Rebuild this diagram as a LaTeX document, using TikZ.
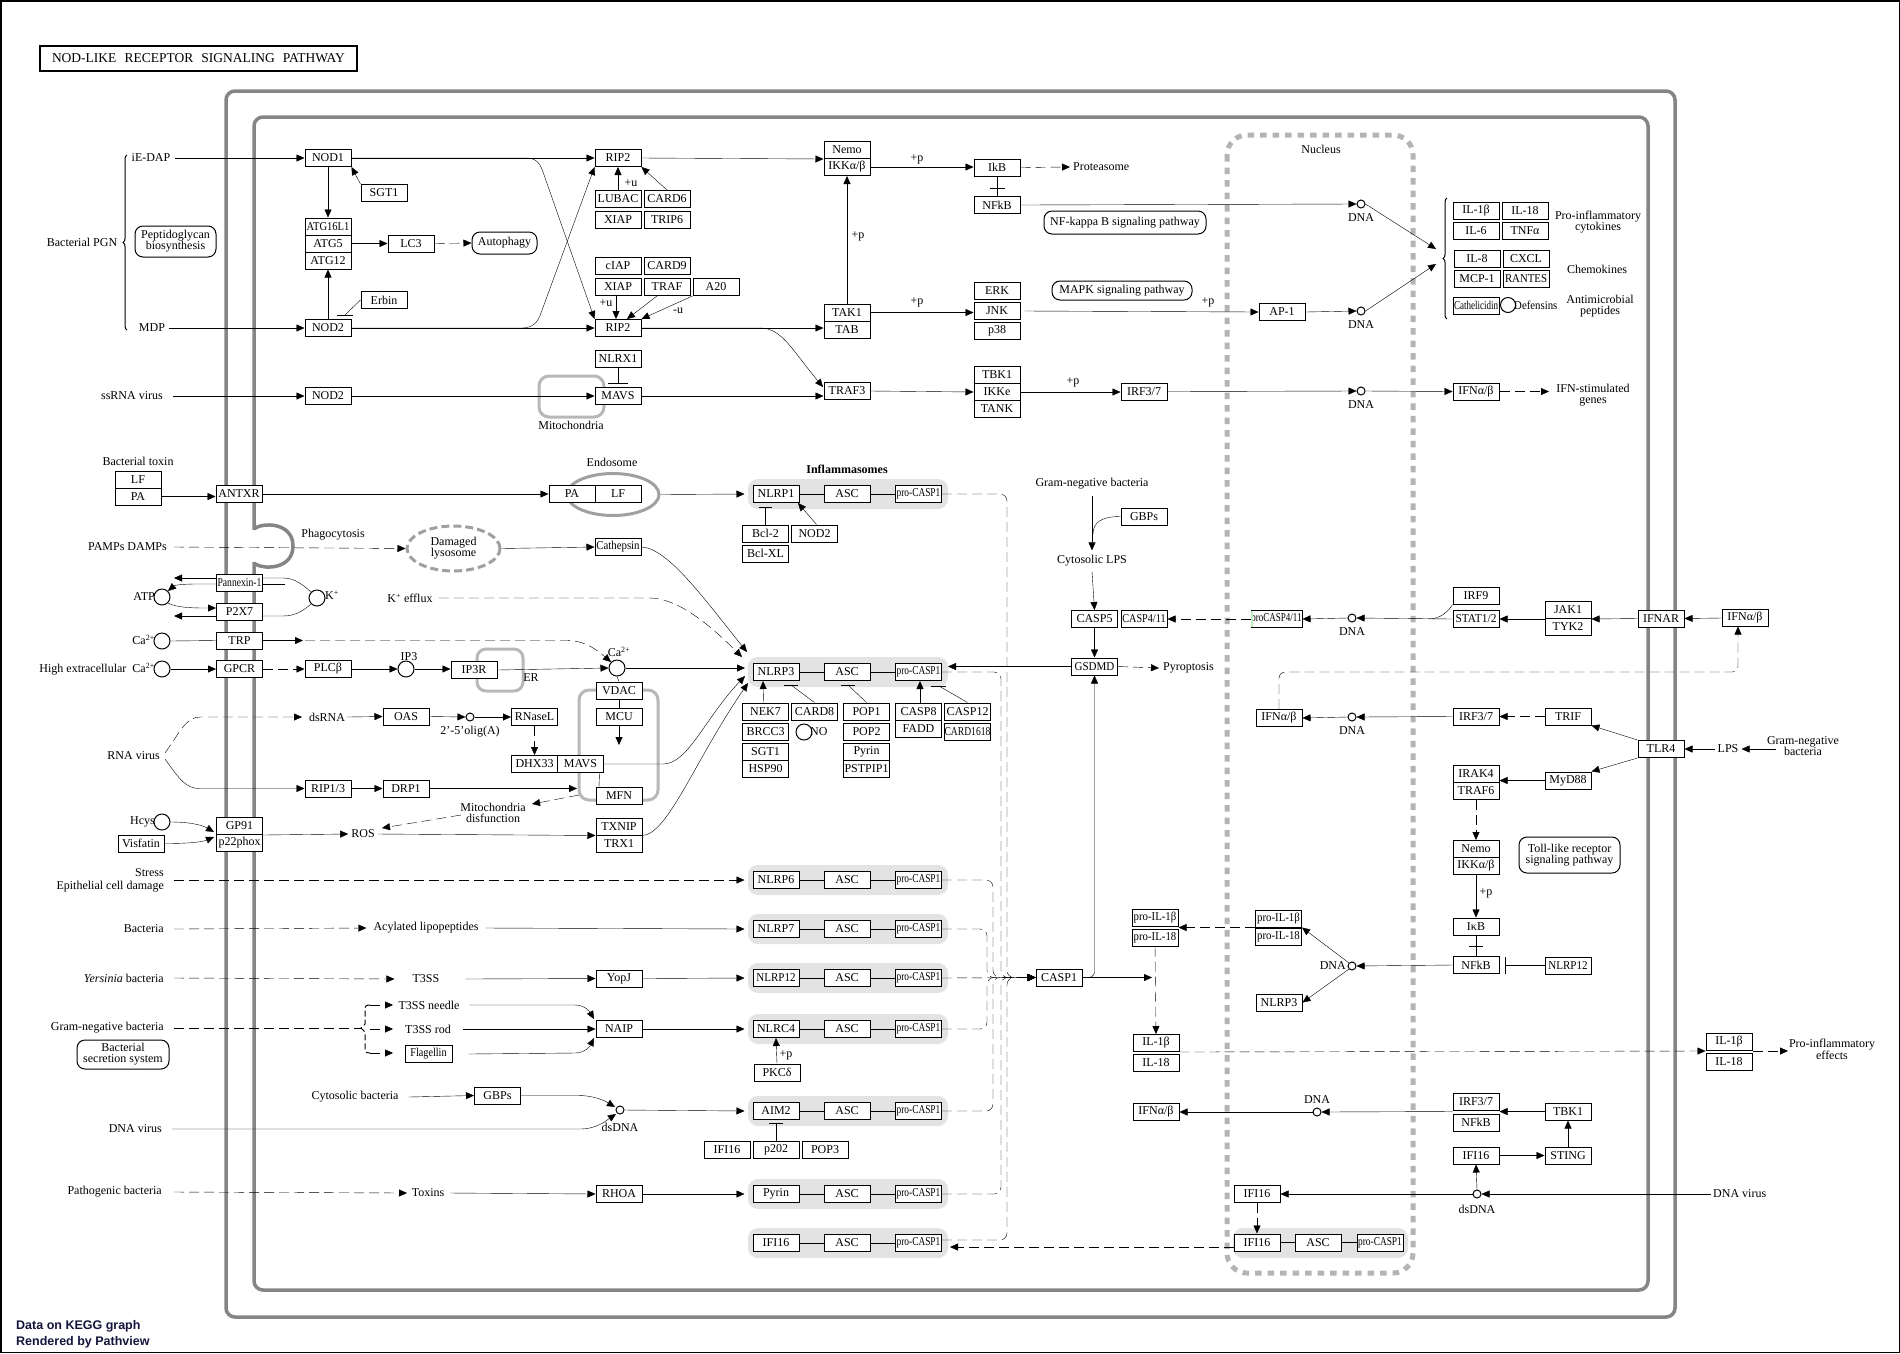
\documentclass[tikz,border=0pt]{standalone}
\usepackage{fontspec}
\setmainfont{Liberation Serif}
\newfontfamily\footfont{Liberation Sans}
\usepackage{graphicx}
\usetikzlibrary{arrows.meta,shapes.geometric,decorations.pathreplacing,calc}
\definecolor{memgray}{HTML}{858585}
\definecolor{nucgray}{HTML}{B4B4B4}
\definecolor{grpgray}{HTML}{E3E3E3}
\definecolor{orggray}{HTML}{B8B8B8}
\definecolor{dkgray}{HTML}{A0A0A0}
\definecolor{footc}{HTML}{14143C}
\definecolor{pvgreen}{HTML}{BFEFBF}
\pgfdeclarelayer{bg}
\pgfsetlayers{bg,main}
\newcommand\gf{\fontsize{12}{11}\selectfont}
\newcommand\cz[2]{\scalebox{#1}[1]{#2}}
% one inflammasome complex: sensor -- ASC -- pro-CASP1
\newcommand\infl[3]{%
  \node[g] (h#1) at (776,#2) {#3};
  \node[g] (asc#1) at (847,#2) {ASC};
  \node[g] (pc#1) at (918.5,#2) {\cz{0.78}{pro-CASP1}};
  \draw (h#1.east) -- (asc#1.west) (asc#1.east) -- (pc#1.west);}

\begin{document}
\begin{tikzpicture}[x=1pt,y=-1pt,line width=1.25pt,
  g/.style={draw,fill=white,minimum width=46pt,minimum height=17pt,inner sep=0pt,font=\gf,line width=1pt},
  lb/.style={inner sep=0pt,font=\gf,align=center},
  pw/.style={draw,rounded corners=8pt,inner sep=0pt,font=\gf,align=center,line width=1pt},
  cpd/.style={circle,draw,fill=white,minimum size=16pt,inner sep=0pt,line width=1pt},
  sc/.style={circle,draw,fill=white,minimum size=8pt,inner sep=0pt,line width=1pt},
  ar/.style={-{Triangle[length=8pt,width=7pt]}},
  dsh/.style={dash pattern=on 10pt off 5pt},
  mem/.style={draw=memgray,line width=3.5pt,rounded corners=9pt},
  org/.style={draw=orggray,line width=3pt,rounded corners=10pt}
]
\useasboundingbox (0,0) rectangle (1900,1353);

\begin{pgfonlayer}{bg}
\fill[white] (0,0) rectangle (1900,1353);
\draw[line width=1.5pt] (0.75,0.75) rectangle (1899.25,1352.25);
% plasma membrane (double line)
\draw[mem] (226,91) rectangle (1675,1317);
\draw[mem] (254,117) rectangle (1648,1290);
% phagocytic cup
\fill[white] (250,530) rectangle (258,562);
\draw[draw=memgray,line width=3.5pt] (254,529) .. controls (262,522) and (293,522) .. (293,546) .. controls (293,570) and (262,570) .. (254,563);
% nucleus
\draw[nucgray,line width=5pt,dash pattern=on 6.5pt off 6pt,rounded corners=20pt] (1227,135) rectangle (1413,1273);
% inflammasome complexes
\foreach \yy in {494,672,880,929,978,1029,1111,1194,1243}
  \fill[grpgray,rounded corners=10pt] (748,\yy-15) rectangle (948,\yy+15);
\fill[grpgray,rounded corners=10pt] (1233,1228) rectangle (1408,1258);
% organelles
\draw[org] (539,376) rectangle (604,417);
\draw[org] (579,690) rectangle (658,800);
\draw[org,rounded corners=9pt] (477,649) rectangle (523,691);
\node[ellipse,draw=dkgray,line width=3pt,minimum width=92pt,minimum height=42pt,inner sep=0pt] (endo) at (613,494.5) {};
\node[ellipse,draw=dkgray,line width=3pt,dash pattern=on 8pt off 4pt,minimum width=93pt,minimum height=45pt,inner sep=0pt,font=\gf,align=center] (dlys) at (453.5,548.5) {Damaged\\lysosome};
\end{pgfonlayer}

% ---------- title and footer
\node[draw,line width=2.2pt,minimum width=317pt,minimum height=25pt,inner sep=0pt,font=\fontsize{13.5}{12}\selectfont] (title) at (198.5,58.5) {\makebox[293pt][s]{NOD-LIKE RECEPTOR SIGNALING PATHWAY}};
\node[anchor=west,inner sep=0pt,align=left,text=footc,font=\footfont\bfseries\fontsize{12.5}{15.5}\selectfont] (foot) at (16,1334) {Data on KEGG graph\\Rendered by Pathview};

% ---------- compartment labels
\node[lb] (nucl) at (1321,149) {Nucleus};
\node[lb] (mitol) at (571,425) {Mitochondria};
\node[lb] (erl) at (531,678) {ER};
\node[lb] (endol) at (612,462) {Endosome};
\node[lb,font=\gf\bfseries] (inflm) at (847,469) {Inflammasomes};

% ---------- NOD1 / NOD2 signalling
\node[lb] (bpgn) at (82,242) {Bacterial PGN};
\draw[decorate,decoration={brace,amplitude=4pt},line width=1pt] (127,330) -- (127,155);
\node[lb] (iedap) at (151,158) {iE-DAP};
\node[lb] (mdp) at (152,328) {MDP};
\node[pw,minimum width=81pt,minimum height=31pt] (pgbio) at (175.5,241.5) {Peptidoglycan\\biosynthesis};
\node[g] (nod1) at (328,158) {NOD1};
\node[g] (nod2a) at (328,328) {NOD2};
\node[g] (sgt1) at (384,193) {SGT1};
\node[g] (erbin) at (384,300) {Erbin};
\node[g] (atg16) at (328,226.5) {\cz{0.88}{ATG16L1}};
\node[g] (atg5) at (328,243.5) {ATG5};
\node[g] (atg12) at (328,260.5) {ATG12};
\node[g] (lc3) at (411,243.5) {LC3};
\node[pw,minimum width=65pt,minimum height=22pt] (autoph) at (504.5,243) {Autophagy};
\node[lb,anchor=east] (ssrna) at (163,396) {ssRNA virus};
\node[g] (nod2b) at (328,396) {NOD2};
\node[g] (rip2a) at (618,158) {RIP2};
\node[g] (lubac) at (618,199) {LUBAC};
\node[g] (card6) at (667,199) {CARD6};
\node[g] (xiapa) at (618,220) {XIAP};
\node[g] (trip6) at (667,220) {TRIP6};
\node[g] (ciap) at (618,266) {cIAP};
\node[g] (card9) at (667,266) {CARD9};
\node[g] (xiapb) at (618,287) {XIAP};
\node[g] (traf) at (667,287) {TRAF};
\node[g] (a20) at (716,287) {A20};
\node[g] (rip2b) at (618,328) {RIP2};
\node[g] (nlrx1) at (618,359) {NLRX1};
\node[g] (mavsa) at (618,396) {MAVS};
\node[g] (nemoa) at (847,150) {Nemo};
\node[g] (ikka) at (847,167) {IKKα/β};
\node[g] (tak1) at (847,312.5) {TAK1};
\node[g] (tab) at (847,329.5) {TAB};
\node[g] (traf3) at (847,391) {TRAF3};
\node[g] (ikba) at (997,167.5) {IkB};
\node[g] (nfkba) at (997,205) {NFkB};
\node[lb,anchor=west] (protea) at (1073,167) {Proteasome};
\node[pw,minimum width=162pt,minimum height=23pt] (nfkbpw) at (1125,222.5) {NF-kappa B signaling pathway};
\node[g] (erk) at (997,291) {ERK};
\node[g] (jnk) at (997,311) {JNK};
\node[g] (p38) at (997,331) {p38};
\node[pw,minimum width=140pt,minimum height=19pt] (mapkpw) at (1122,290.5) {MAPK signaling pathway};
\node[g] (tbk1a) at (997,375) {TBK1};
\node[g] (ikke) at (997,392) {IKKe};
\node[g] (tank) at (997,409) {TANK};
\node[g] (irfa) at (1144,391.5) {IRF3/7};
\node[g] (ap1) at (1282,312) {AP-1};
\node[sc] (dna1) at (1361,204) {};
\node[lb] (dna1l) at (1361,218) {DNA};
\node[sc] (dna2) at (1361,311) {};
\node[lb] (dna2l) at (1361,325) {DNA};
\node[sc] (dna3) at (1361,391) {};
\node[lb] (dna3l) at (1361,405) {DNA};
\node[lb] (pu1) at (631,183) {+u};
\node[lb] (pu2) at (606,303) {+u};
\node[lb] (mu1) at (678,311) {-u};
\node[lb] (pp1) at (858,236) {+p};
\node[lb] (pp2) at (917,159) {+p};
\node[lb] (pp3) at (917,302) {+p};
\node[lb] (pp4) at (1208,302) {+p};
\node[lb] (pp5) at (1073,382) {+p};

% ---------- secreted products
\node[g] (il1ba) at (1476,210.5) {IL-1β};
\node[g] (il18a) at (1525,210.5) {IL-18};
\node[g] (il6) at (1476,231) {IL-6};
\node[g] (tnfa) at (1525,231) {TNFα};
\node[g] (il8) at (1477,258.5) {IL-8};
\node[g] (cxcl) at (1526,258.5) {CXCL};
\node[g] (mcp1) at (1477,278.5) {MCP-1};
\node[g] (rantes) at (1526,278.5) {\cz{0.9}{RANTES}};
\node[g] (cath) at (1476,305.5) {\cz{0.75}{Cathelicidin}};
\node[cpd,minimum size=15pt] (defc) at (1508,305) {};
\node[lb,anchor=west] (defl) at (1514,305) {\cz{0.9}{Defensins}};
\node[lb] (cytk) at (1598,222.5) {Pro-inflammatory\\cytokines};
\node[lb] (chemk) at (1597,269) {Chemokines};
\node[lb] (amp) at (1600,306.5) {Antimicrobial\\peptides};
\draw[decorate,decoration={brace,amplitude=4pt},line width=1pt] (1447,319) -- (1447,198);
\node[g] (ifnaba) at (1476,391.5) {IFNα/β};
\node[lb] (isg) at (1593,395) {IFN-stimulated\\genes};

% ---------- left middle: toxins, ions, RNA virus, ROS
\node[lb] (btox) at (138,461) {Bacterial toxin};
\node[g] (lfa) at (138,479.5) {LF};
\node[g] (paa) at (138,496.5) {PA};
\node[g] (antxr) at (239,494) {ANTXR};
\node[g] (pab) at (572,494) {PA};
\node[g] (lfb) at (618,494) {LF};
\node[lb,anchor=east] (pamps) at (167,547) {PAMPs DAMPs};
\node[lb] (phago) at (333,535) {Phagocytosis};
\node[g] (cathep) at (618,547) {\cz{0.9}{Cathepsin}};
\node[g] (panx) at (239.5,583) {\cz{0.8}{Pannexin-1}};
\node[g] (p2x7) at (239.5,611.5) {P2X7};
\node[cpd] (atp) at (162,597) {};
\node[lb,anchor=east] (atpl) at (155,597) {ATP};
\node[cpd] (kp) at (317,598) {};
\node[lb,anchor=west] (kpl) at (325,595) {K\textsuperscript{+}};
\node[lb] (kef) at (410,598) {K\textsuperscript{+} efflux};
\node[cpd] (caa) at (162,641) {};
\node[lb,anchor=east] (caal) at (155,640) {Ca\textsuperscript{2+}};
\node[g] (trp) at (239.5,640.5) {TRP};
\node[cpd] (cab) at (162,669) {};
\node[lb,anchor=east] (cabl) at (155,669) {High extracellular\ \ Ca\textsuperscript{2+}};
\node[g] (gpcr) at (239.5,669) {GPCR};
\node[g] (plcb) at (328,669) {PLCβ};
\node[cpd] (ip3) at (406,669) {};
\node[lb] (ip3l) at (409,657) {IP3};
\node[g] (ip3r) at (474,670) {IP3R};
\node[cpd] (cac) at (617,668) {};
\node[lb] (cacl) at (619,652) {Ca\textsuperscript{2+}};
\node[g] (vdac) at (619,690.5) {VDAC};
\node[g] (mcu) at (619,716.5) {MCU};
\node[g] (mfn) at (619,796) {MFN};
\node[g] (dhx33) at (534.5,764) {DHX33};
\node[g] (mavsb) at (580.5,764) {MAVS};
\node[g] (rnasel) at (534.5,717) {RNaseL};
\node[sc] (olig) at (470,717) {};
\node[lb] (oligl) at (470,732) {2’-5’olig(A)};
\node[g] (oas) at (406,716.5) {OAS};
\node[lb] (dsrna) at (327,717) {dsRNA};
\node[lb,anchor=east] (rnav) at (160,756) {RNA virus};
\node[g] (rip13) at (328,788.5) {RIP1/3};
\node[g] (drp1) at (406,788.5) {DRP1};
\node[lb] (mdis) at (493,812.5) {Mitochondria\\disfunction};
\node[cpd] (hcys) at (162,822) {};
\node[lb,anchor=east] (hcysl) at (155,822) {Hcys};
\node[g] (visf) at (141,843.5) {Visfatin};
\node[g] (gp91) at (239.5,826) {GP91};
\node[g] (p22) at (239.5,843) {p22phox};
\node[lb] (ros) at (363,834) {ROS};
\node[g] (txnip) at (619,826.5) {TXNIP};
\node[g] (trx1) at (619,843.5) {TRX1};
\node[lb,anchor=east] (stress) at (164,873) {Stress};
\node[lb,anchor=east] (epi) at (164,887) {Epithelial cell damage};

% ---------- inflammasomes
\infl{A}{494}{NLRP1}
\infl{B}{672}{NLRP3}
\infl{C}{880}{NLRP6}
\infl{D}{929}{NLRP7}
\infl{E}{978}{\cz{0.92}{NLRP12}}
\infl{F}{1029}{NLRC4}
\infl{G}{1111}{AIM2}
\infl{H}{1194}{Pyrin}
\infl{I}{1243}{IFI16}
\node[g] (bcl2) at (765.5,533.5) {Bcl-2};
\node[g] (bclxl) at (765.5,553.5) {Bcl-XL};
\node[g] (nod2c) at (814.5,533.5) {NOD2};
\node[g] (nek7) at (765.5,711.5) {NEK7};
\node[g] (brcc3) at (765.5,731.5) {BRCC3};
\node[g] (sgt1b) at (765.5,751.5) {SGT1};
\node[g] (hsp90) at (765.5,768.5) {HSP90};
\node[g] (card8) at (814.5,711.5) {CARD8};
\node[cpd] (no) at (804,732) {};
\node[lb,anchor=west] (nol) at (810,732) {NO};
\node[g] (pop1) at (866.5,711.5) {POP1};
\node[g] (pop2) at (866.5,731.5) {POP2};
\node[g] (pyrb) at (866.5,751.5) {Pyrin};
\node[g] (pstpip) at (866.5,768.5) {PSTPIP1};
\node[g] (casp8) at (918.5,711.5) {CASP8};
\node[g] (fadd) at (918.5,728.5) {FADD};
\node[g] (casp12) at (967.5,711.5) {CASP12};
\node[g] (card1618) at (967.5,732) {\cz{0.8}{CARD1618}};
\node[g] (pkcd) at (777,1072.5) {PKCδ};
\node[lb] (pp6) at (786,1055) {+p};
\node[g] (ifi16a) at (727,1149.5) {IFI16};
\node[g] (p202) at (776,1149.5) {p202};
\node[g] (pop3) at (825,1149.5) {POP3};

% ---------- bottom left: bacteria and DNA virus
\node[lb,anchor=east] (bact) at (164,929) {Bacteria};
\node[lb] (acyl) at (426,928) {Acylated lipopeptides};
\node[lb,anchor=east] (yers) at (164,978) {\textit{Yersinia} bacteria};
\node[lb] (t3ss) at (426,979) {T3SS};
\node[g] (yopj) at (619,978.5) {YopJ};
\node[lb,anchor=east] (gnb) at (164,1028) {Gram-negative bacteria};
\node[pw,minimum width=92pt,minimum height=29pt] (bss) at (123,1054.5) {Bacterial\\secretion system};
\node[lb] (needle) at (429,1005) {T3SS needle};
\node[lb] (rod) at (428,1029) {T3SS rod};
\node[g,minimum width=47pt] (flag) at (428.5,1054) {\cz{0.85}{Flagellin}};
\node[g] (naip) at (619,1029) {NAIP};
\node[lb] (cytb) at (355,1097) {Cytosolic bacteria};
\node[g] (gbpsa) at (497.5,1095.5) {GBPs};
\node[sc] (dsdnaa) at (620,1110) {};
\node[lb] (dsdnaal) at (620,1127) {dsDNA};
\node[lb,anchor=east] (dnava) at (162,1129) {DNA virus};
\node[lb,anchor=east] (pathb) at (162,1192) {Pathogenic bacteria};
\node[lb] (toxins) at (428,1193) {Toxins};
\node[g] (rhoa) at (619,1194) {RHOA};

% ---------- CASP1, GSDMD, non-canonical pathway
\node[lb] (gnb2) at (1092,484) {Gram-negative bacteria};
\node[g] (gbpsb) at (1144,516.5) {GBPs};
\node[lb] (clps) at (1092,561) {Cytosolic LPS};
\node[g] (casp5) at (1094.5,619) {CASP5};
\node[g] (casp411) at (1144,619) {\cz{0.85}{CASP4/11}};
\node[g] (gsdmd) at (1094.5,666.5) {\cz{0.92}{GSDMD}};
\node[lb,anchor=west] (pyro) at (1163,668) {Pyroptosis};
\node[g] (casp1) at (1059,977.5) {CASP1};
\node[g,minimum width=51pt] (pc411) at (1276.5,619) {\cz{0.75}{proCASP4/11}};
\fill[pvgreen] ([xshift=0.8pt,yshift=-0.8pt]pc411.north west) rectangle ([xshift=2.8pt,yshift=0.8pt]pc411.south west);
\node[sc] (dna4) at (1352,618) {};
\node[lb] (dna4l) at (1352,632) {DNA};
\node[g] (irf9) at (1476,595.5) {IRF9};
\node[g] (stat12) at (1476,619) {\cz{0.95}{STAT1/2}};
\node[g] (jak1) at (1568,610) {JAK1};
\node[g] (tyk2) at (1568,627) {TYK2};
\node[g] (ifnar) at (1661,618.5) {IFNAR};
\node[g] (ifnabb) at (1745,618) {IFNα/β};
\node[g] (ifnabc) at (1279,718) {IFNα/β};
\node[sc] (dna5) at (1352,717) {};
\node[lb] (dna5l) at (1352,731) {DNA};
\node[g] (irfb) at (1476,716.5) {IRF3/7};
\node[g] (trif) at (1568,716.5) {TRIF};
\node[g] (tlr4) at (1661,749) {TLR4};
\node[lb] (lps) at (1728,749) {LPS};
\node[lb] (gnb3) at (1803,746.5) {Gram-negative\\bacteria};
\node[g] (irak4) at (1476,773.5) {IRAK4};
\node[g] (traf6) at (1476,790.5) {TRAF6};
\node[g] (myd88) at (1568,780.5) {MyD88};
\node[pw,minimum width=101pt,minimum height=36pt] (tlrpw) at (1569.5,855) {Toll-like receptor\\signaling pathway};
\node[g] (nemob) at (1476,849) {Nemo};
\node[g] (ikkb) at (1476,866) {IKKα/β};
\node[lb] (pp7) at (1486,893) {+p};
\node[g] (ikbb) at (1476,926.5) {IκB};
\node[g] (nfkbb) at (1476,965) {NFkB};
\node[g] (nlrp12b) at (1568,965.5) {\cz{0.92}{NLRP12}};
\node[sc] (dna6) at (1352,966) {};
\node[lb,anchor=east] (dna6l) at (1346,966) {DNA};
\node[g] (pil1bn) at (1278.5,918.5) {\cz{0.9}{pro-IL-1β}};
\node[g] (pil18n) at (1278.5,936.5) {\cz{0.9}{pro-IL-18}};
\node[g] (nlrp3n) at (1279,1002.5) {NLRP3};
\node[g] (pil1bc) at (1155,917.5) {\cz{0.9}{pro-IL-1β}};
\node[g] (pil18c) at (1155,937.5) {\cz{0.9}{pro-IL-18}};
\node[g] (il1bc) at (1156,1043) {IL-1β};
\node[g] (il18c) at (1156,1062.5) {IL-18};
\node[g] (il1bo) at (1729,1042) {IL-1β};
\node[g] (il18o) at (1729,1062) {IL-18};
\node[lb] (pinf) at (1832,1049.5) {Pro-inflammatory\\effects};
\node[g] (ifnabd) at (1156,1112) {IFNα/β};
\node[sc] (dna7) at (1317,1112) {};
\node[lb] (dna7l) at (1317,1100) {DNA};
\node[g] (irfc) at (1476,1101.5) {IRF3/7};
\node[g] (nfkbc) at (1476,1122.5) {NFkB};
\node[g] (tbk1b) at (1568,1111.5) {TBK1};
\node[g] (ifi16b) at (1476,1155.5) {IFI16};
\node[g] (sting) at (1568,1155.5) {STING};
\node[sc] (dsdnab) at (1477,1194) {};
\node[lb] (dsdnabl) at (1477,1209) {dsDNA};
\node[lb,anchor=west] (dnavb) at (1713,1194) {DNA virus};
\node[g] (ifi16c) at (1257,1194) {IFI16};
\node[g] (ifi16d) at (1257,1242.5) {IFI16};
\node[g] (ascn) at (1318,1242.5) {ASC};
\node[g] (pcn) at (1380,1242.5) {\cz{0.78}{pro-CASP1}};
\draw (ifi16d.east) -- (ascn.west) (ascn.east) -- (pcn.west);

% ================= connectors =================
% NOD1 / NOD2 / RIP2
\draw[ar] ([xshift=4pt]iedap.east) -- (nod1.west);
\draw[ar] ([xshift=4pt]mdp.east) -- (nod2a.west);
\draw[ar] ([xshift=10pt]ssrna.east) -- (nod2b.west);
\draw[ar] (sgt1.north west) -- (nod1.south east);
\draw[ar] (nod1.south) -- (atg16.north);
\draw[ar] (nod2a.north) -- (atg12.south);
\draw (erbin.west) -- (345,315);
\draw (337,315) -- (353,315);
\draw[ar] (atg5.east) -- (lc3.west);
\draw[dsh,ar] (lc3.east) -- (autoph.west);
\draw[ar] (nod1.east) -- (rip2a.west);
\draw[ar] (nod1.east) -- (526,158) .. controls (536,158) and (540,163) .. (543,172) -- (rip2b.north west);
\draw[ar] (nod2a.east) -- (522,328) .. controls (533,328) and (538,322) .. (541,313) -- (rip2a.south west);
\draw[ar] (nod2a.east) -- (rip2b.west);
\draw[ar] (nod2b.east) -- (mavsa.west);
\draw[ar] (lubac.north) -- (rip2a.south);
\draw[ar] (card6.north) -- (rip2a.south east);
\draw[ar] ([xshift=-2pt]xiapb.south) -- ([xshift=-2pt]rip2b.north);
\draw[ar] ([xshift=-10pt]traf.south) -- ([xshift=9pt]rip2b.north);
\draw[ar] (a20.south west) -- (rip2b.north east);
\draw (nlrx1.south) -- (618,383);
\draw (608,383) -- (628,383);
\draw[ar] (rip2a.east) -- (nemoa.south west);
\draw[ar] (tak1.north) -- (ikka.south);
\draw[ar] (rip2b.east) -- (rip2b.east -| tab.west);
\draw[ar] (rip2b.east) -- (760,328) .. controls (782,328) and (792,350) .. (823,387);
\draw[ar] (mavsa.east) -- (mavsa.east -| traf3.west);
\draw[ar] (ikka.east) -- (ikka.east -| ikba.west);
\draw[dsh,ar] (ikba.east) -- ([xshift=-3pt]protea.west);
\draw (ikba.south) -- (nfkba.north);
\draw (990,188) -- (1005,188);
\draw[ar] (nfkba.east) -- (dna1.west);
\draw[ar] (tak1.east) -- (tak1.east -| jnk.west);
\draw[ar] ([xshift=4pt]jnk.east) -- (ap1.west);
\draw[ar] (ap1.east) -- (dna2.west);
\draw[ar] (traf3.east) -- (ikke.west);
\draw[ar] (ikke.east) -- (ikke.east -| irfa.west);
\draw[ar] (irfa.east) -- (dna3.west);
\draw[ar] (dna1.east) -- (1436,249);
\draw[ar] (dna2.east) -- (1436,264);
\draw[ar] (dna3.east) -- (ifnaba.west);
\draw[dsh,ar] (ifnaba.east) -- (1549,391.5);

% toxins, phagocytosis, ion channels
\draw[ar] (paa.east) -- (paa.east -| antxr.west);
\draw[ar] (antxr.east) -- (pab.west);
\draw[ar] (endo.east) -- ([xshift=-8pt]hA.west);
\draw (bcl2.north) -- (765.5,507);
\draw (759,507) -- (772,507);
\draw[ar] ([xshift=2pt]nod2c.north) -- (798,503);
\draw[dsh,ar] ([xshift=7pt]pamps.east) -- (dlys.west);
\draw[ar] (dlys.east) -- (cathep.west);
\draw[ar] (cathep.east) .. controls (668,548) and (705,600) .. (747,652);
\draw[ar] (217,578) -- (174,578);
\draw[ar] (217,584) -- (196,584) .. controls (184,584) and (175,585) .. (atp.north east);
\draw[ar] (atp.south east) .. controls (177,608) and (195,608) .. (216,608);
\draw[ar] (217,616) -- (174,616);
\draw (262,578) -- (283,578) .. controls (295,578) and (303,585) .. (kp.north west);
\draw (262,584) -- (285,584);
\draw (262,616) -- (283,616) .. controls (295,616) and (303,611) .. (kp.south west);
\draw[dsh,ar] ([xshift=6pt]kef.east) -- (650,598) .. controls (675,598) and (705,620) .. (742,657);
\draw (caa.east) -- (trp.west);
\draw[ar] (trp.east) -- (303,640.5);
\draw[dsh,ar] (305,640.5) -- (567,640.5) .. controls (585,640.5) and (597,650) .. (cac.north west);
\draw[ar] (cab.east) -- (gpcr.west);
\draw[dsh,ar] (gpcr.east) -- (plcb.west);
\draw[ar] (plcb.east) -- (ip3.west);
\draw[ar] (ip3.east) -- (ip3.east -| ip3r.west);
\draw[ar] (ip3r.east) -- (cac.west);
\draw[ar] (cac.east) -- (745,668);
\draw (cac.south) -- (vdac.north);
\draw (vdac.south) -- (mcu.north);
\draw[ar] (mcu.south) -- (619,745);
% RNA virus
\draw[ar] ([xshift=2pt]dsrna.east) -- (oas.west);
\draw[ar] (oas.east) -- (olig.west);
\draw[ar] (olig.east) -- (rnasel.west);
\draw[dsh,ar] (rnasel.south) -- (dhx33.north);
\draw[dsh,ar] ([xshift=5pt,yshift=3pt]rnav.east) .. controls (180,732) and (186,717) .. (200,717) -- (302,717);
\draw[ar] ([xshift=5pt,yshift=-3pt]rnav.east) .. controls (180,780) and (186,788.5) .. (200,788.5) -- (rip13.west);
\draw[ar] (rip13.east) -- (drp1.west);
\draw[ar] (drp1.east) -- (577,788.5);
\draw[ar] (mavsb.east) -- (663,764) .. controls (688,764) and (705,718) .. (745,676);
\draw ([xshift=19pt]mavsb.south) -- ([xshift=-20pt]mfn.north);
\draw[dsh,ar] (579,795) -- (532,804);
\draw[dsh,ar] (461,815) -- (382,828);
% ROS
\draw[ar] (hcys.east) .. controls (190,822) and (202,825) .. (214,832);
\draw[ar] (visf.east) .. controls (190,843.5) and (202,842) .. (214,837);
\draw[ar] (gp91.south east) -- ([xshift=-3pt]ros.west);
\draw[ar] ([xshift=3pt]ros.east) -- (txnip.south west);
\draw[ar] (txnip.south east) .. controls (668,834) and (695,760) .. (748,683);
% NLRP3 modulators
\draw[ar] ([xshift=-2pt]nek7.north) -- ([xshift=-13pt]hB.south);
\draw (card8.north) -- (791,685);
\draw (784,685) -- (798,685);
\draw (pop1.north) -- (848,685);
\draw (841,685) -- (855,685);
\draw[ar] ([xshift=1.5pt]casp8.north) -- ([xshift=1.5pt]pcB.south);
\draw (casp12.north) -- (939,686);
\draw (931,686) -- (946,686);
% other sensors
\draw[dsh,ar] ([xshift=10pt]stress.east |- hC.west) -- ([xshift=-8pt]hC.west);
\draw[dsh,ar] ([xshift=10pt]bact.east) -- ([xshift=-7pt]acyl.west);
\draw[ar] ([xshift=7pt]acyl.east) -- ([xshift=-8pt]hD.west);
\draw[dsh,ar] ([xshift=10pt]yers.east) -- ([xshift=-18pt]t3ss.west);
\draw[ar] ([xshift=26pt]t3ss.east) -- (yopj.west);
\draw[ar] (yopj.east) -- ([xshift=-8pt]hE.west);
\draw[dsh] ([xshift=10pt]gnb.east) -- (361,1028);
\draw[dash pattern=on 6pt off 3pt,line width=1pt] (370,1005) .. controls (366,1005) and (365,1006) .. (365,1010) -- (365,1024) -- (361,1028) -- (365,1032) -- (365,1048) .. controls (365,1052) and (366,1053) .. (370,1053);
\draw[dsh,ar] (370,1005) -- (393,1005);
\draw[dsh,ar] (370,1029) -- (393,1029);
\draw[dsh,ar] (370,1053) -- (393,1053);
\draw[ar] ([xshift=10pt]needle.east) -- (575,1005) .. controls (585,1005) and (590,1012) .. (594,1019);
\draw[ar] ([xshift=12pt]rod.east) -- (naip.west);
\draw[ar] ([xshift=16pt]flag.east) -- (575,1053) .. controls (585,1053) and (590,1046) .. (594,1038);
\draw[ar] (naip.east) -- ([xshift=-8pt]hF.west);
\draw[ar] (pkcd.north) -- (hF.south);
\draw[ar] ([xshift=10pt]cytb.east) -- (gbpsa.west);
\draw[ar] (gbpsa.east) -- (578,1095.5) .. controls (595,1095.5) and (605,1101) .. (615,1107);
\draw[ar] ([xshift=10pt]dnava.east) -- (580,1129) .. controls (597,1129) and (607,1120) .. (616,1114);
\draw[ar] (dsdnaa.east) -- ([xshift=-8pt]hG.west);
\draw (p202.north) -- (776,1123);
\draw (769,1123) -- (783,1123);
\draw[dsh,ar] ([xshift=12pt]pathb.east) -- (407,1193);
\draw[ar] ([xshift=6pt]toxins.east) -- (rhoa.west);
\draw[ar] (rhoa.east) -- ([xshift=-8pt]hH.west);
% pro-CASP1 -> CASP1
\begin{scope}[dsh,ar,rounded corners=7pt]
\draw (pcA.east) -- (1007,494) -- (1007,977.5) -- (casp1.west);
\draw (pcB.east) -- (1001,672) -- (1001,977.5) -- (casp1.west);
\draw (pcC.east) -- (993,880) -- (993,977.5) -- (casp1.west);
\draw (pcD.east) -- (987,929) -- (987,977.5) -- (casp1.west);
\draw (pcE.east) -- (casp1.west);
\draw (pcF.east) -- (987,1029) -- (987,977.5) -- (casp1.west);
\draw (pcG.east) -- (993,1111) -- (993,977.5) -- (casp1.west);
\draw (pcH.east) -- (1001,1194) -- (1001,977.5) -- (casp1.west);
\draw ([yshift=3pt]pcI.east) -- (1007,1240) -- (1007,977.5) -- (casp1.west);
\end{scope}
\draw[ar,rounded corners=6pt] (casp1.east) -- (1094.5,977.5) -- (gsdmd.south);
\draw[ar] (casp1.east) -- (1152,977.5);
\draw[ar] (gsdmd.west) -- (948,666.5);
% non-canonical inflammasome
\draw[ar] ([yshift=-6pt]gnb2.south) -- ([yshift=5pt]clps.north);
\draw (gbpsb.west) .. controls (1102,516.5) and (1093,522) .. (1093,534);
\draw[ar] ([yshift=-5pt]clps.south) -- (casp5.north);
\draw[ar] (casp5.south) -- (gsdmd.north);
\draw[dsh,ar] (gsdmd.east) -- ([xshift=-4pt]pyro.west);
\draw[dsh,ar] (pc411.west) -- (casp411.east);
\draw[ar] (dna4.west) -- (pc411.east);
\draw[ar] (stat12.west) -- (dna4.east);
\draw (irf9.south west) .. controls (1448,612) and (1440,619) .. (1428,619);
\draw[ar] (jak1.south west) -- (stat12.east);
\draw[ar] (ifnar.west) -- (jak1.south east);
\draw[ar] (ifnabb.west) -- (ifnar.east);
\draw[dsh,ar,rounded corners=6pt] (ifnabc.north) -- (1279,672) -- (1738,672) -- (1738,626.5);
\draw[ar] (dna5.west) -- (ifnabc.east);
\draw[ar] (irfb.west) -- (dna5.east);
\draw[dsh,ar] (trif.west) -- (irfb.east);
\draw[ar] (tlr4.north west) -- (trif.south east);
\draw[ar] (tlr4.south west) -- (myd88.north east);
\draw[ar] ([xshift=-2pt]lps.west) -- (tlr4.east);
\draw[ar] (1776,749) -- ([xshift=3pt]lps.east);
\draw[ar] (myd88.west) -- (myd88.west -| irak4.east);
\draw[dsh,ar] (traf6.south) -- (nemob.north);
\draw[ar] (ikkb.south) -- (ikbb.north);
\draw (ikbb.south) -- (nfkbb.north);
\draw (1469,946) -- (1483,946);
\draw (nlrp12b.west) -- (1505,965.5);
\draw (1505,957) -- (1505,974);
\draw[ar] (nfkbb.west) -- (dna6.east);
\draw[ar] (dna6.north west) -- (pil1bn.south east);
\draw[ar] (dna6.south west) -- (nlrp3n.east);
\draw[dsh,ar] ($(pil1bn.south west)!0.5!(pil18n.north west)$) -- ($(pil1bc.south east)!0.5!(pil18c.north east)$);
\draw[dsh,ar] (pil18c.south) -- (il1bc.north);
\draw[dsh,ar] (il1bc.south east) -- (il1bo.south west);
\draw[dsh,ar] (il1bo.south east) -- (1788,1051);
% cytosolic DNA sensing
\draw[ar] (tbk1b.west) -- (tbk1b.west -| irfc.east);
\draw[ar] (tbk1b.west -| irfc.west) -- (dna7.east);
\draw[ar] (dna7.west) -- (ifnabd.east);
\draw[ar] (ifi16b.east) -- (sting.west);
\draw[ar] (sting.north) -- (tbk1b.south);
\draw[ar] (dsdnab.north) -- (ifi16b.south);
\draw[ar] ([xshift=-2pt]dnavb.west) -- (dsdnab.east);
\draw[ar] (dsdnab.west) -- (ifi16c.east);
\draw[dsh,ar] (ifi16c.south) -- (ifi16d.north);
\draw[dsh,ar] ([yshift=-4.5pt]ifi16d.west) -- (950,1247);
\end{tikzpicture}
\end{document}
